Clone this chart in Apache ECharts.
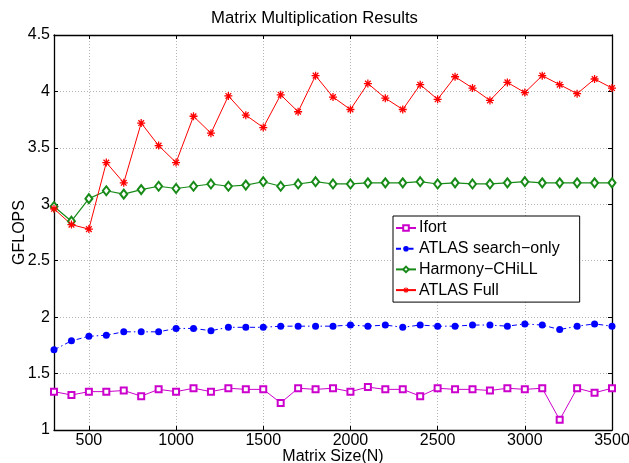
<!DOCTYPE html>
<html>
<head>
<meta charset="utf-8">
<script src="https://cdn.jsdelivr.net/npm/echarts@6/dist/echarts.min.js"></script>
<style>
  html, body { margin: 0; padding: 0; background: #ffffff; }
  #chart { width: 629px; height: 463px; }
</style>
</head>
<body>
<div id="chart"></div>
<script>
// Matrix sizes N
const sizes = [300, 400, 500, 600, 700, 800, 900, 1000, 1100, 1200, 1300, 1400, 1500, 1600, 1700,
  1800, 1900, 2000, 2100, 2200, 2300, 2400, 2500, 2600, 2700, 2800, 2900, 3000, 3100, 3200, 3300, 3400, 3500];

// GFLOPS per implementation
const ifort = [1.34, 1.31, 1.34, 1.34, 1.35, 1.30, 1.36, 1.34, 1.37, 1.34, 1.37, 1.36, 1.36, 1.24, 1.37,
  1.36, 1.37, 1.34, 1.38, 1.36, 1.36, 1.30, 1.37, 1.36, 1.36, 1.35, 1.37, 1.36, 1.37, 1.09, 1.37, 1.33, 1.37];
const atlasSearch = [1.71, 1.79, 1.83, 1.84, 1.87, 1.87, 1.87, 1.90, 1.90, 1.88, 1.91, 1.91, 1.91, 1.92, 1.92,
  1.92, 1.92, 1.93, 1.92, 1.93, 1.91, 1.93, 1.92, 1.92, 1.93, 1.93, 1.92, 1.94, 1.93, 1.89, 1.92, 1.94, 1.92];
const harmony = [2.98, 2.85, 3.05, 3.12, 3.09, 3.13, 3.16, 3.14, 3.16, 3.18, 3.16, 3.17, 3.20, 3.16, 3.18,
  3.20, 3.18, 3.18, 3.19, 3.19, 3.19, 3.20, 3.18, 3.19, 3.18, 3.18, 3.19, 3.20, 3.19, 3.19, 3.19, 3.19, 3.19];
const atlasFull = [2.96, 2.82, 2.78, 3.37, 3.19, 3.72, 3.52, 3.37, 3.78, 3.63, 3.96, 3.79, 3.68, 3.97, 3.82,
  4.14, 3.95, 3.84, 4.07, 3.94, 3.84, 4.06, 3.93, 4.13, 4.03, 3.92, 4.08, 3.99, 4.14, 4.06, 3.98, 4.11, 4.03];

const seriesNames = ['Ifort', 'ATLAS search\u2212only', 'Harmony\u2212CHiLL', 'ATLAS Full'];
const xTickLabels = [500, 1000, 1500, 2000, 2500, 3000, 3500];

const pairs = (ys) => sizes.map((x, i) => [x, ys[i]]);

// asterisk marker: four crossing bars
const asterisk = 'path://M-5,-0.8L5,-0.8L5,0.8L-5,0.8Z' +
  'M0.8,-5L0.8,5L-0.8,5L-0.8,-5Z' +
  'M-4.1,-2.97L-2.97,-4.1L4.1,2.97L2.97,4.1Z' +
  'M4.1,-2.97L-2.97,4.1L-4.1,2.97L2.97,-4.1Z';

const FONT = 'Liberation Sans, Arial, Helvetica, sans-serif';
const axisLineStyle = { color: '#000', width: 1.3 };
const plain = (v) => String(v);

const chart = echarts.init(document.getElementById('chart'), null, { renderer: 'canvas' });
chart.setOption({
  animation: false,
  backgroundColor: '#ffffff',
  textStyle: { fontFamily: FONT },
  title: {
    text: 'Matrix Multiplication Results',
    left: 'center',
    top: 5,
    textStyle: { fontFamily: FONT, fontSize: 16.7, fontWeight: 'normal', color: '#000' }
  },
  grid: { left: 54, right: 17, top: 35, bottom: 33, containLabel: false, outerBoundsMode: 'none' },
  legend: {
    orient: 'vertical',
    left: 393,
    top: 216,
    data: seriesNames,
    backgroundColor: '#fff',
    borderColor: '#000',
    borderWidth: 1,
    borderRadius: 0,
    padding: [4, 20, 4, 2],
    itemWidth: 20,
    itemHeight: 7,
    itemGap: 4.7,
    textStyle: { fontFamily: FONT, fontSize: 16, color: '#000', lineHeight: 16, padding: [0, 0, 0, -2] }
  },
  xAxis: [{
    type: 'value',
    min: 300,
    max: 3500,
    name: 'Matrix Size(N)',
    nameLocation: 'middle',
    nameGap: 19,
    nameMoveOverlap: false,
    nameTextStyle: { fontFamily: FONT, fontSize: 16, color: '#000' },
    axisLine: { show: true, lineStyle: axisLineStyle },
    axisTick: { show: true, inside: true, length: 4, lineStyle: { color: '#000' }, customValues: xTickLabels },
    axisLabel: { fontFamily: FONT, fontSize: 16, color: '#000', margin: 3, customValues: xTickLabels, formatter: plain },
    splitLine: { show: true, lineStyle: { color: '#b4b4b4', type: [1, 2], width: 1 } }
  }, {
    type: 'value',
    position: 'top',
    min: 300,
    max: 3500,
    axisLine: { show: true, lineStyle: axisLineStyle },
    axisTick: { show: true, inside: true, length: 4, lineStyle: { color: '#000' }, customValues: xTickLabels },
    axisLabel: { show: false },
    splitLine: { show: false }
  }],
  yAxis: [{
    type: 'value',
    min: 1,
    max: 4.5,
    interval: 0.5,
    name: 'GFLOPS',
    nameLocation: 'middle',
    nameGap: 26,
    nameMoveOverlap: false,
    nameRotate: 90,
    nameTextStyle: { fontFamily: FONT, fontSize: 16, color: '#000' },
    axisLine: { show: true, lineStyle: axisLineStyle },
    axisTick: { show: true, inside: true, length: 4, lineStyle: { color: '#000' } },
    axisLabel: { fontFamily: FONT, fontSize: 16, color: '#000', margin: 4, formatter: plain },
    splitLine: { show: true, lineStyle: { color: '#b4b4b4', type: [1, 2], width: 1 } }
  }, {
    type: 'value',
    position: 'right',
    min: 1,
    max: 4.5,
    interval: 0.5,
    axisLine: { show: true, lineStyle: axisLineStyle },
    axisTick: { show: true, inside: true, length: 4, lineStyle: { color: '#000' } },
    axisLabel: { show: false },
    splitLine: { show: false }
  }],
  series: [{
    name: seriesNames[0],
    type: 'line',
    data: pairs(ifort),
    symbol: 'emptyRect',
    symbolSize: 6,
    color: '#cc00cc',
    itemStyle: { color: '#cc00cc', borderColor: '#cc00cc', borderWidth: 1 },
    lineStyle: { color: '#cc00cc', width: 1 }
  }, {
    name: seriesNames[1],
    type: 'line',
    data: pairs(atlasSearch),
    symbol: 'circle',
    symbolSize: 7,
    color: '#0000ff',
    itemStyle: { color: '#0000ff' },
    lineStyle: { color: '#0000ff', width: 1, type: [5, 3, 1.5, 3] }
  }, {
    name: seriesNames[2],
    type: 'line',
    data: pairs(harmony),
    symbol: 'emptyDiamond',
    symbolSize: [7, 9],
    color: '#178a17',
    itemStyle: { color: '#178a17', borderColor: '#178a17', borderWidth: 1.2 },
    lineStyle: { color: '#178a17', width: 1.2 }
  }, {
    name: seriesNames[3],
    type: 'line',
    data: pairs(atlasFull),
    symbol: asterisk,
    symbolSize: 8,
    color: '#ff0000',
    itemStyle: { color: '#ff0000' },
    lineStyle: { color: '#ff0000', width: 1 }
  }]
});
</script>
</body>
</html>
